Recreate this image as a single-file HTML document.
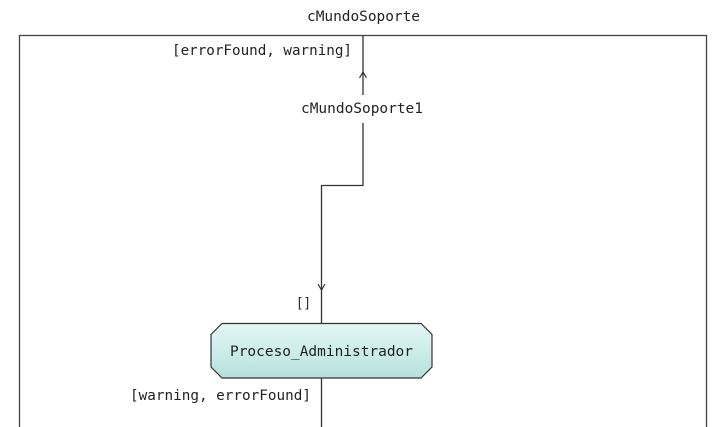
<!DOCTYPE html>
<html><head><meta charset="utf-8"><style>
html,body{margin:0;padding:0;background:#fff;width:724px;height:427px;overflow:hidden}
text{font-family:"DejaVu Sans Mono","Liberation Mono",monospace;font-size:14px;fill:#222}
</style></head><body>
<svg width="724" height="427" xmlns="http://www.w3.org/2000/svg">
<defs><linearGradient id="g" x1="0" y1="0" x2="0" y2="1">
<stop offset="0" stop-color="#e4f7f5"/><stop offset="0.6" stop-color="#c8ebe8"/><stop offset="1" stop-color="#b5dfdc"/></linearGradient></defs>
<rect x="19.5" y="35.5" width="687" height="400" fill="none" stroke="#444" stroke-width="1.3"/>
<text x="307" y="21" textLength="113" lengthAdjust="spacingAndGlyphs">cMundoSoporte</text>
<text x="172" y="55" textLength="180" lengthAdjust="spacingAndGlyphs">[errorFound, warning]</text>
<line x1="363" y1="36" x2="363" y2="95" stroke="#333" stroke-width="1.3"/>
<path d="M359.5,78 L363,72 L366.5,78" fill="none" stroke="#333" stroke-width="1.2"/>
<text x="301" y="113" textLength="122" lengthAdjust="spacingAndGlyphs">cMundoSoporte1</text>
<path d="M363,123 V185.5 H321.5 V323" fill="none" stroke="#333" stroke-width="1.3"/>
<path d="M318,284 L321.5,290 L325,284" fill="none" stroke="#333" stroke-width="1.2"/>
<text x="296" y="308" textLength="15" lengthAdjust="spacingAndGlyphs">[]</text>
<path d="M222,323.5 H421 L432,334.5 V367 L421,378 H222 L211,367 V334.5 Z" fill="url(#g)" stroke="#333" stroke-width="1.2"/>
<text x="230" y="356" textLength="183" lengthAdjust="spacingAndGlyphs">Proceso_Administrador</text>
<line x1="321.5" y1="378" x2="321.5" y2="427" stroke="#333" stroke-width="1.3"/>
<text x="130" y="400" textLength="181" lengthAdjust="spacingAndGlyphs">[warning, errorFound]</text>
</svg>
</body></html>
